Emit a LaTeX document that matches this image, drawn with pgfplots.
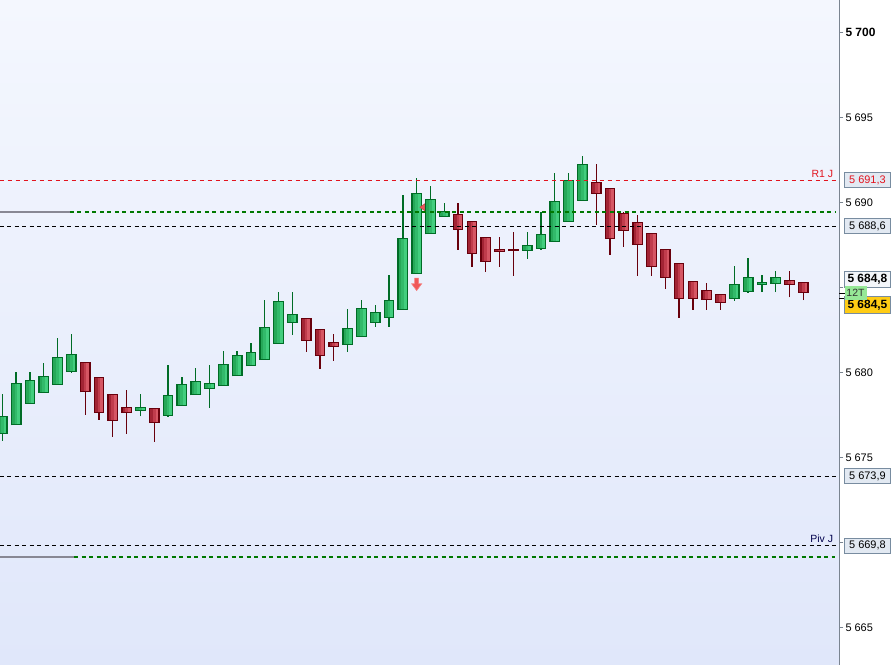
\documentclass[border=0pt]{standalone}
\usepackage{pgfplots}
\pgfplotsset{compat=1.18}
\usepackage{pgfplotstable}
\usepackage{fontspec}
\setmainfont{Liberation Sans}

\definecolor{bgtop}{RGB}{244,247,254}
\definecolor{bgbot}{RGB}{224,231,250}
\definecolor{upF1}{RGB}{38,168,88}
\definecolor{upF2}{RGB}{50,186,106}
\definecolor{upF3}{RGB}{66,206,126}
\definecolor{upB}{RGB}{0,108,38}
\definecolor{dnF1}{RGB}{162,36,52}
\definecolor{dnF2}{RGB}{192,60,76}
\definecolor{dnF3}{RGB}{214,86,100}
\definecolor{dnB}{RGB}{104,0,12}
\definecolor{rline}{RGB}{226,20,30}
\definecolor{gline}{RGB}{0,120,0}
\definecolor{axgray}{RGB}{122,132,144}
\definecolor{boxfill}{RGB}{226,233,242}
\definecolor{boxdraw}{RGB}{120,140,160}
\definecolor{arrowred}{RGB}{240,88,88}
\definecolor{graylvl}{RGB}{136,136,148}

\pgfdeclareplotmark{dnarrow}{%
  \pgfpathmoveto{\pgfpoint{-2bp}{6.2bp}}%
  \pgfpathlineto{\pgfpoint{2bp}{6.2bp}}%
  \pgfpathlineto{\pgfpoint{2bp}{0.6bp}}%
  \pgfpathlineto{\pgfpoint{5bp}{0.6bp}}%
  \pgfpathlineto{\pgfpoint{0bp}{-6.2bp}}%
  \pgfpathlineto{\pgfpoint{-5bp}{0.6bp}}%
  \pgfpathlineto{\pgfpoint{-2bp}{0.6bp}}%
  \pgfpathclose
  \pgfusepathqfillstroke}
\pgfdeclareplotmark{ltri}{%
  \pgfpathmoveto{\pgfpoint{-2.4bp}{0bp}}%
  \pgfpathlineto{\pgfpoint{2.4bp}{3.4bp}}%
  \pgfpathlineto{\pgfpoint{2.4bp}{-3.4bp}}%
  \pgfpathclose
  \pgfusepathqfillstroke}

% rising candles: index, low, body bottom (open), body top (close), high
\pgfplotstableread{
i lo bot top hi
0 5675.99 5676.42 5677.42 5678.74
1 5676.93 5676.93 5679.36 5680.03
2 5678.19 5678.19 5679.54 5680.03
3 5678.84 5678.84 5679.78 5680.56
4 5679.31 5679.31 5680.89 5682.03
5 5679.99 5680.05 5681.07 5682.26
10 5677.42 5677.78 5677.95 5678.74
12 5677.40 5677.48 5678.66 5680.44
13 5678.07 5678.07 5679.31 5679.74
14 5678.69 5678.69 5679.48 5680.26
15 5677.93 5679.07 5679.36 5680.44
16 5679.22 5679.22 5680.48 5681.26
17 5679.81 5679.81 5681.01 5681.26
18 5680.40 5680.40 5681.19 5681.74
19 5680.78 5680.78 5682.66 5684.26
20 5681.72 5681.72 5684.19 5684.74
21 5682.22 5682.95 5683.42 5684.74
25 5681.22 5681.66 5682.60 5683.72
26 5682.13 5682.13 5683.78 5684.25
27 5682.69 5682.95 5683.54 5683.95
28 5682.69 5683.25 5684.25 5685.72
29 5683.72 5683.72 5687.89 5690.44
30 5685.84 5685.84 5690.54 5691.44
31 5688.16 5688.16 5690.19 5690.97
32 5689.19 5689.19 5689.48 5689.97
38 5686.69 5687.19 5687.48 5688.25
39 5687.22 5687.31 5688.13 5689.42
40 5687.72 5687.72 5690.07 5691.74
41 5688.89 5688.89 5691.31 5691.74
42 5690.13 5690.13 5692.25 5692.74
53 5684.22 5684.36 5685.19 5686.26
54 5684.69 5684.78 5685.60 5686.74
55 5684.72 5685.19 5685.31 5685.74
56 5684.72 5685.25 5685.60 5685.97
}\upc
% falling candles: index, low, body bottom (close), body top (open), high
\pgfplotstableread{
i lo bot top hi
6 5677.52 5678.87 5680.60 5680.60
7 5677.22 5677.66 5679.72 5679.72
8 5676.22 5677.19 5678.72 5678.72
9 5676.40 5677.66 5677.95 5678.97
11 5675.93 5677.05 5677.89 5677.89
22 5681.22 5681.89 5683.19 5683.19
23 5680.22 5681.01 5682.54 5682.54
24 5680.69 5681.54 5681.78 5682.25
33 5687.22 5688.42 5689.31 5689.97
34 5686.22 5687.01 5688.89 5688.89
35 5685.93 5686.54 5687.95 5687.95
36 5686.22 5687.13 5687.25 5687.95
37 5685.69 5687.18 5687.21 5688.25
43 5688.69 5690.54 5691.19 5692.26
44 5686.93 5687.89 5690.84 5690.84
45 5687.40 5688.36 5689.36 5689.42
46 5685.69 5687.54 5688.84 5689.25
47 5685.69 5686.25 5688.19 5688.19
48 5684.93 5685.60 5687.25 5687.25
49 5683.22 5684.36 5686.42 5686.42
50 5683.69 5684.36 5685.36 5685.36
51 5683.69 5684.31 5684.84 5685.26
52 5683.69 5684.13 5684.60 5684.60
57 5684.42 5685.19 5685.42 5685.97
58 5684.25 5684.72 5685.31 5685.31
}\dnc

\begin{document}
\begin{tikzpicture}
\useasboundingbox (0,0) rectangle (891bp,665bp);
\begin{axis}[
  at={(0,0)}, anchor=south west,
  scale only axis, width=839.3bp, height=665bp,
  xmin=-0.167, xmax=60.6, ymin=5662.79, ymax=5701.91,
  axis x line=none, axis y line*=right,
  axis line style={draw=axgray, line width=1.3bp},
  axis background/.style={top color=bgtop, bottom color=bgbot},
  ytick={5665,5670,5675,5680,5685,5690,5695,5700},
  yticklabels={5 665,,5 675,5 680,,5 690,5 695,{\fontsize{12}{14}\selectfont\bfseries 5 700}},
  yticklabel style={font=\fontsize{11}{13}\selectfont, anchor=west, inner sep=0pt, xshift=2bp},
  ytick style={draw=axgray, line width=1bp},
  major tick length=4bp, tick align=outside,
  seg/.style n args={2}{draw=none, no markers, forget plot,
    error bars/.cd, y dir=plus, y explicit, error mark=none,
    error bar style={solid, line width=#2, draw=#1}},
  lvl/.style={line width=1.2bp, dash pattern=on 4bp off 3.5bp, forget plot},
]
% small signal triangle (behind candle)
\addplot[only marks, mark=ltri, draw=arrowred!80!black, fill=arrowred, line width=0.5bp] coordinates {(30.41,5689.72)};
% wicks
\addplot[seg={upB}{1.3bp}] table[x=i, y=lo, y error plus expr=\thisrow{hi}-\thisrow{lo}] {\upc};
\addplot[seg={dnB}{1.3bp}] table[x=i, y=lo, y error plus expr=\thisrow{hi}-\thisrow{lo}] {\dnc};
% bodies: border, then graded fill
\addplot[seg={upB}{10.8bp}] table[x=i, y expr=\thisrow{bot}-0.038, y error plus expr=\thisrow{top}-\thisrow{bot}+0.076] {\upc};
\addplot[seg={dnB}{10.8bp}] table[x=i, y expr=\thisrow{bot}-0.038, y error plus expr=\thisrow{top}-\thisrow{bot}+0.076] {\dnc};
\addplot[seg={upF1}{8.2bp}] table[x=i, y expr=\thisrow{bot}+0.038, y error plus expr={max(\thisrow{top}-\thisrow{bot}-0.076,0)}] {\upc};
\addplot[seg={dnF1}{8.2bp}] table[x=i, y expr=\thisrow{bot}+0.038, y error plus expr={max(\thisrow{top}-\thisrow{bot}-0.076,0)}] {\dnc};
\addplot[seg={upF2}{5.5bp}] table[x expr=\thisrow{i}+0.097, y expr=\thisrow{bot}+0.038, y error plus expr={max(\thisrow{top}-\thisrow{bot}-0.076,0)}] {\upc};
\addplot[seg={dnF2}{5.5bp}] table[x expr=\thisrow{i}+0.097, y expr=\thisrow{bot}+0.038, y error plus expr={max(\thisrow{top}-\thisrow{bot}-0.076,0)}] {\dnc};
\addplot[seg={upF3}{2.8bp}] table[x expr=\thisrow{i}+0.195, y expr=\thisrow{bot}+0.038, y error plus expr={max(\thisrow{top}-\thisrow{bot}-0.076,0)}] {\upc};
\addplot[seg={dnF3}{2.8bp}] table[x expr=\thisrow{i}+0.195, y expr=\thisrow{bot}+0.038, y error plus expr={max(\thisrow{top}-\thisrow{bot}-0.076,0)}] {\dnc};
% level lines (on top of candles)
\addplot[lvl, draw=rline, dash pattern=on 4bp off 4bp] coordinates {(-0.2,5691.3) (60.6,5691.3)};
\addplot[draw=graylvl, line width=1.5bp, forget plot] coordinates {(-0.2,5689.43) (4.9,5689.43)};
\addplot[lvl, draw=gline, line width=1.4bp] coordinates {(4.9,5689.43) (60.3,5689.43)};
\addplot[lvl, draw=black] coordinates {(-0.2,5688.6) (60.6,5688.6)};
\addplot[lvl, draw=black] coordinates {(-0.2,5673.9) (60.6,5673.9)};
\addplot[lvl, draw=black] coordinates {(-0.2,5669.8) (60.6,5669.8)};
\addplot[draw=graylvl, line width=1.5bp, forget plot] coordinates {(-0.2,5669.15) (5.2,5669.15)};
\addplot[lvl, draw=gline, line width=1.6bp] coordinates {(5.2,5669.15) (60.3,5669.15)};
% down arrow signal
\addplot[only marks, mark=dnarrow, draw=arrowred!75!white, fill=arrowred, line width=0.6bp] coordinates {(30,5685.18)};
\coordinate (r1) at (axis cs:60.6,5691.3);
\coordinate (pp) at (axis cs:60.6,5688.6);
\coordinate (s1) at (axis cs:60.6,5673.9);
\coordinate (pv) at (axis cs:60.6,5669.8);
\coordinate (cur) at (axis cs:60.6,5685.47);
\coordinate (bid) at (axis cs:60.6,5683.97);
\coordinate (tt) at (axis cs:60.6,5684.66);
\coordinate (m1) at (axis cs:60.6,5684.63);
\coordinate (m2) at (axis cs:60.6,5684.34);
\end{axis}
\tikzset{pbox/.style={anchor=west, draw=boxdraw, fill=boxfill, line width=0.8bp,
  minimum width=45.5bp, minimum height=15bp, inner xsep=1.5bp, inner ysep=0pt,
  font=\fontsize{11}{13}\selectfont}}
\node[anchor=base east, text=rline, font=\fontsize{10.5}{12}\selectfont, inner sep=0pt] at ([xshift=-6bp,yshift=3bp]r1) {R1 J};
\node[anchor=base east, text=black!70!blue, font=\fontsize{10.5}{12}\selectfont, inner sep=0pt] at ([xshift=-6bp,yshift=3bp]pv) {Piv J};
\node[pbox, text=rline] at ([xshift=5bp]r1) {5 691,3};
\node[pbox] at ([xshift=5bp]pp) {5 688,6};
\node[pbox] at ([xshift=5bp]s1) {5 673,9};
\node[pbox] at ([xshift=5bp]pv) {5 669,8};
\draw[black, line width=0.9bp] (m1) -- ++(6bp,0);
\draw[black, line width=0.9bp] (m2) -- ++(6bp,0);
\node[pbox, fill=white!60!boxfill, minimum height=16bp, font=\fontsize{12}{14}\selectfont\bfseries] at ([xshift=5bp]cur) {5 684,8};
\node[pbox, fill={rgb,255:red,255;green,204;blue,20}, minimum height=16.5bp, font=\fontsize{12}{14}\selectfont\bfseries] at ([xshift=5bp]bid) {5 684,5};
\node[anchor=west, fill={rgb,255:red,150;green,232;blue,150}, minimum width=22bp, minimum height=14bp, inner sep=0pt, text=black!80, font=\fontsize{10.5}{12}\selectfont] at ([xshift=5bp]tt) {12T};
\end{tikzpicture}
\end{document}
